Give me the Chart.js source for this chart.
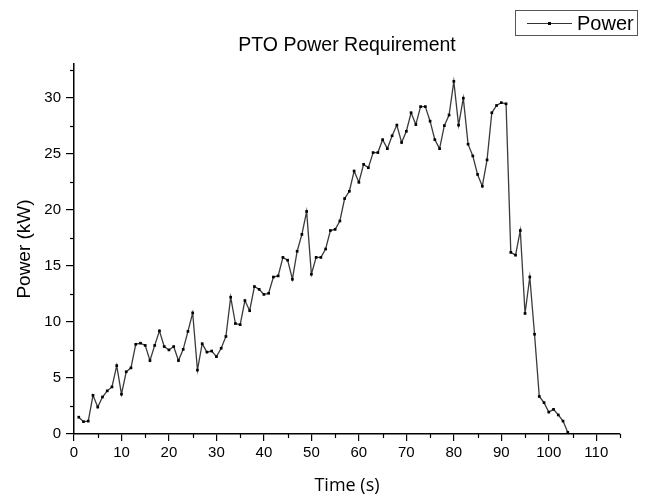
<!doctype html>
<html lang="en">
  <head>
    <meta charset="utf-8">
    <title>PTO Power Requirement</title>
    <script src="https://cdn.jsdelivr.net/npm/chart.js"></script>
    <style>
      html, body { margin: 0; padding: 0; background: #fff; }
      canvas { display: block; }
    </style>
  </head>
  <body>
    <canvas id='powerChart' width='645' height='497'></canvas>

    <script>

  // data (time in s, power in kW)
  const timeVals = [1, 2, 3, 4, 5, 6, 7, 8, 9, 10, 11, 12, 13, 14, 15, 16, 17, 18, 19, 20,
    21, 22, 23, 24, 25, 26, 27, 28, 29, 30, 31, 32, 33, 34, 35, 36, 37, 38, 39, 40,
    41, 42, 43, 44, 45, 46, 47, 48, 49, 50, 51, 52, 53, 54, 55, 56, 57, 58, 59, 60,
    61, 62, 63, 64, 65, 66, 67, 68, 69, 70, 71, 72, 73, 74, 75, 76, 77, 78, 79, 80,
    81, 82, 83, 84, 85, 86, 87, 88, 89, 90, 91, 92, 93, 94, 95, 96, 97, 98, 99, 100,
    101, 102, 103, 104];
  const powerVals = [1.5, 1.1, 1.15, 3.45, 2.4, 3.3, 3.85, 4.2, 6.1, 3.55,
    5.55, 5.9, 8.0, 8.1, 7.9, 6.55, 7.9, 9.2, 7.8, 7.5,
    7.8, 6.55, 7.55, 9.15, 10.8, 5.7, 8.05, 7.3, 7.4, 6.9,
    7.65, 8.7, 12.2, 9.85, 9.75, 11.9, 11.0, 13.15, 12.9, 12.45,
    12.55, 14.0, 14.1, 15.75, 15.5, 13.8, 16.3, 17.8, 19.85, 14.25,
    15.75, 15.75, 16.5, 18.15, 18.25, 19.0, 21.0, 21.65, 23.45, 22.45,
    24.05, 23.75, 25.1, 25.1, 26.25, 25.45, 26.6, 27.55, 26.0, 27.0,
    28.65, 27.6, 29.2, 29.2, 27.9, 26.25, 25.45, 27.5, 28.45, 31.45,
    27.55, 29.95, 25.85, 24.8, 23.15, 22.1, 24.45, 28.65, 29.3, 29.55,
    29.45, 16.2, 15.95, 18.15, 10.75, 14.0, 8.9, 3.35, 2.8, 1.95,
    2.2, 1.7, 1.15, 0.15];
  const xMinorTicks = [5, 15, 25, 35, 45, 55, 65, 75, 85, 95, 105, 115];
  const yMinorTicks = [2.5, 7.5, 12.5, 17.5, 22.5, 27.5, 32.5];

  const chartTitle = 'PTO Power Requirement';
  const seriesName = 'Power';

  const points = timeVals.map((t, i) => ({x: t, y: powerVals[i]}));

  // short outward minor ticks, title and the boxed legend (Origin style)
  const extrasPlugin = {
    id: 'extras',
    afterDraw(chart) {
      const c = chart.ctx;
      const xs = chart.scales.x, ys = chart.scales.y;
      const area = chart.chartArea;
      c.save();
      c.strokeStyle = '#000';
      c.lineWidth = 1.2;
      xMinorTicks.forEach(v => {
        const px = Math.round(xs.getPixelForValue(v)) + 0.5;
        c.beginPath(); c.moveTo(px, area.bottom); c.lineTo(px, area.bottom + 4); c.stroke();
      });
      yMinorTicks.forEach(v => {
        const py = Math.round(ys.getPixelForValue(v)) + 0.5;
        c.beginPath(); c.moveTo(area.left, py); c.lineTo(area.left - 4, py); c.stroke();
      });

      // title
      c.fillStyle = '#000';
      c.font = '19.5px "Liberation Sans", Arial, sans-serif';
      c.textAlign = 'center';
      c.textBaseline = 'middle';
      c.fillText(chartTitle, (area.left + area.right) / 2, 46);

      // legend
      c.strokeStyle = '#555';
      c.lineWidth = 1;
      c.strokeRect(515.5, 10.5, 122, 25);
      c.strokeStyle = '#333';
      c.lineWidth = 1.2;
      c.beginPath(); c.moveTo(527, 23.5); c.lineTo(572, 23.5); c.stroke();
      c.fillStyle = '#000';
      c.fillRect(548, 22, 3, 3);
      c.font = '20px "Liberation Sans", Arial, sans-serif';
      c.textAlign = 'left';
      c.fillText(seriesName, 577, 24);
      c.restore();
    }
  };

  const ctx = document.getElementById('powerChart').getContext('2d');
  const chart = new Chart(ctx, {
    type: 'line',
    data: {
      datasets: [{
        label: seriesName,
        data: points,
        borderColor: '#3a3a3a',
        borderWidth: 1.3,
        pointStyle: 'rect',
        pointRadius: 1.9,
        pointBackgroundColor: '#000',
        pointBorderColor: '#000',
        pointBorderWidth: 0,
        tension: 0
      }]
    },
    options: {
      responsive: false,
      animation: false,
      layout: { padding: { left: 0, right: 25, top: 64, bottom: 0 } },
      plugins: {
        legend: { display: false },
        title: { display: false },
        tooltip: { enabled: false }
      },
      scales: {
        x: {
          type: 'linear',
          min: 0,
          max: 115,
          afterFit: s => { s.height = 63; },
          ticks: {
            stepSize: 10,
            includeBounds: false,
            maxRotation: 0,
            padding: 3,
            color: '#000',
            font: { family: '"Liberation Sans", Arial, sans-serif', size: 15 }
          },
          grid: { drawOnChartArea: false, tickLength: 7, color: '#000', lineWidth: 1.2 },
          border: { color: '#000', width: 1.5 },
          title: {
            display: true,
            text: 'Time (s)',
            color: '#000',
            padding: 0,
            font: { family: '"Open Sans", sans-serif', size: 18 }
          }
        },
        y: {
          min: 0,
          max: 33,
          afterFit: s => { s.width = 74; },
          ticks: {
            stepSize: 5,
            includeBounds: false,
            padding: 5,
            color: '#000',
            font: { family: '"Liberation Sans", Arial, sans-serif', size: 15 }
          },
          grid: { drawOnChartArea: false, tickLength: 8, color: '#000', lineWidth: 1.2 },
          border: { color: '#000', width: 1.5 },
          title: {
            display: true,
            text: 'Power (kW)',
            color: '#000',
            padding: { top: 13, bottom: 0 },
            font: { family: '"Liberation Sans", Arial, sans-serif', size: 19 }
          }
        }
      }
    },
    plugins: [extrasPlugin]
  });

  </script>
  </body>
</html>
